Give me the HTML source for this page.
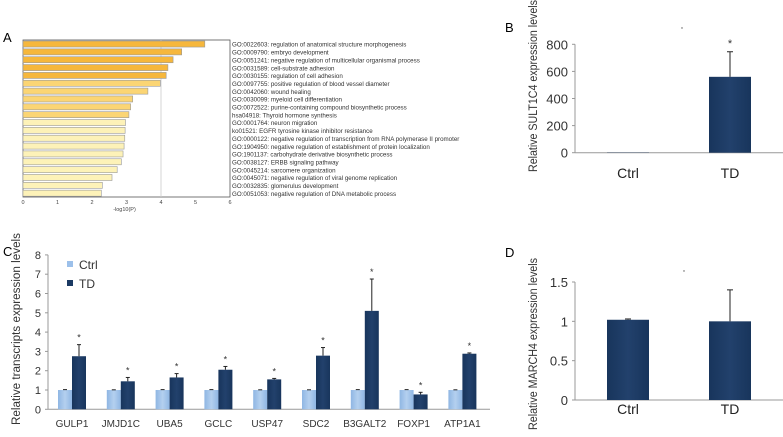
<!DOCTYPE html>
<html><head><meta charset="utf-8"><style>
body{margin:0;background:#fff;width:783px;height:432px;overflow:hidden;font-family:"Liberation Sans",sans-serif}
svg text{font-family:"Liberation Sans",sans-serif}
</style></head><body>
<svg id="s" width="783" height="432">
<defs>
<linearGradient id="gd" x1="0" x2="1"><stop offset="0" stop-color="#18355c"/><stop offset="0.5" stop-color="#22416c"/><stop offset="1" stop-color="#18355c"/></linearGradient>
<linearGradient id="gl" x1="0" x2="1"><stop offset="0" stop-color="#8fb6e3"/><stop offset="0.5" stop-color="#b4d0ef"/><stop offset="1" stop-color="#8fb6e3"/></linearGradient>
</defs>
<text x="3" y="42" font-size="13">A</text>
<text x="505" y="32" font-size="13">B</text>
<text x="3" y="256" font-size="13">C</text>
<text x="505" y="257" font-size="13">D</text>
<g id="ga"></g><g id="gb"></g><g id="gc"></g><g id="gdd"></g>
</svg>
<script>
const goTerms=["GO:0022603: regulation of anatomical structure morphogenesis","GO:0009790: embryo development","GO:0051241: negative regulation of multicellular organismal process","GO:0031589: cell-substrate adhesion","GO:0030155: regulation of cell adhesion","GO:0097755: positive regulation of blood vessel diameter","GO:0042060: wound healing","GO:0030099: myeloid cell differentiation","GO:0072522: purine-containing compound biosynthetic process","hsa04918: Thyroid hormone synthesis","GO:0001764: neuron migration","ko01521: EGFR tyrosine kinase inhibitor resistance","GO:0000122: negative regulation of transcription from RNA polymerase II promoter","GO:1904950: negative regulation of establishment of protein localization","GO:1901137: carbohydrate derivative biosynthetic process","GO:0038127: ERBB signaling pathway","GO:0045214: sarcomere organization","GO:0045071: negative regulation of viral genome replication","GO:0032835: glomerulus development","GO:0051053: negative regulation of DNA metabolic process"];
const goValues=[5.27,4.6,4.35,4.2,4.15,3.98,3.62,3.18,3.12,3.07,2.97,2.96,2.95,2.93,2.9,2.85,2.73,2.58,2.3,2.27];
const aTicks=[0,1,2,3,4,5,6];
const genes=["GULP1","JMJD1C","UBA5","GCLC","USP47","SDC2","B3GALT2","FOXP1","ATP1A1"];
const ctrlVals=[1,1,1,1,1,1,1,1,1];
const ctrlErr=[0.02,0.01,0.02,0.02,0.01,0.01,0.02,0.02,0.01];
const tdVals=[2.75,1.45,1.65,2.05,1.55,2.78,5.1,0.77,2.88];
const tdErr=[0.6,0.2,0.2,0.17,0.05,0.42,1.65,0.11,0.04];
const cTicks=[0,1,2,3,4,5,6,7,8];
const bGroups=["Ctrl","TD"];const bVals=[2,560];const bErr=[0,185];const bTicks=[0,200,400,600,800];
const dGroups=["Ctrl","TD"];const dVals=[1.02,1.0];const dErr=[0.01,0.4];const dTicks=[0,0.5,1,1.5];
const NS="http://www.w3.org/2000/svg";
function mk(p,t,a,txt){const e=document.createElementNS(NS,t);for(const k in a)e.setAttribute(k,a[k]);if(txt!==undefined)e.textContent=txt;p.appendChild(e);return e;}
// Panel A
(function(){const g=document.getElementById('ga');
const x=v=>23+v*34.5;const top=40,bot=197;const step=(bot-top)/goValues.length;
let fr=mk(g,'rect',{x:23,y:top,width:207,height:bot-top,fill:'none',stroke:'#555','stroke-width':0.8});

mk(g,'line',{x1:x(4),x2:x(4),y1:top,y2:bot,stroke:'#ccc','stroke-width':0.8});
goValues.forEach((v,i)=>{const c=i<5?'#f6b73c':i<10?'#fbd574':'#fdf2b8';
const y=top+i*step+1;
const r=mk(g,'rect',{x:23,y:y,width:x(v)-23,height:step-1.8,fill:c,stroke:'#999','stroke-width':0.6});

const t=mk(g,'text',{x:232,y:y+step/2+1.8,'font-size':6.2,fill:'#333'},goTerms[i]);
});
aTicks.forEach(v=>{const t=mk(g,'text',{x:x(v),y:bot+7,'font-size':5.5,'text-anchor':'middle',fill:'#444'},v);
});
const xt=mk(g,'text',{x:x(3)-2,y:bot+14,'font-size':5.5,'text-anchor':'middle',fill:'#444'},'-log10(P)');
})();
// Panel C
(function(){const g=document.getElementById('gc');
const y=v=>409.3-v*19.3;const x0=48,xe=490,step=48.8;
mk(g,'line',{x1:x0,x2:x0,y1:y(8),y2:y(0),stroke:'#999'});
mk(g,'line',{x1:x0,x2:xe,y1:y(0),y2:y(0),stroke:'#999'});
cTicks.forEach(v=>{mk(g,'line',{x1:x0-3,x2:x0,y1:y(v),y2:y(v),stroke:'#999'});
const t=mk(g,'text',{x:x0-7,y:y(v)+4,'font-size':11,'text-anchor':'end',fill:'#333'},v);
});
genes.forEach((gn,i)=>{const cx=72+i*step;
const r1=mk(g,'rect',{x:cx-14,y:y(ctrlVals[i]),width:14,height:y(0)-y(ctrlVals[i]),fill:'url(#gl)'});

mk(g,'line',{x1:cx-7,x2:cx-7,y1:y(ctrlVals[i]),y2:y(ctrlVals[i]+ctrlErr[i]),stroke:'#222'});
mk(g,'line',{x1:cx-9,x2:cx-5,y1:y(ctrlVals[i]+ctrlErr[i]),y2:y(ctrlVals[i]+ctrlErr[i]),stroke:'#222'});
const r2=mk(g,'rect',{x:cx,y:y(tdVals[i]),width:14,height:y(0)-y(tdVals[i]),fill:'url(#gd)'});

const et=y(tdVals[i]+tdErr[i]);
mk(g,'line',{x1:cx+7,x2:cx+7,y1:y(tdVals[i]),y2:et,stroke:'#222'});
mk(g,'line',{x1:cx+5,x2:cx+9,y1:et,y2:et,stroke:'#222'});
mk(g,'text',{x:cx+7,y:et-4,'font-size':9,'text-anchor':'middle',fill:'#333'},'*');
const t=mk(g,'text',{x:cx,y:427,'font-size':10,'text-anchor':'middle',fill:'#333'},gn);
});
const yl=mk(g,'text',{x:0,y:0,'font-size':11.5,'text-anchor':'middle',fill:'#333',textLength:192,lengthAdjust:'spacingAndGlyphs',transform:'translate(20,329) rotate(-90)'},'Relative transcripts expression levels');

const l1=mk(g,'rect',{x:67,y:261,width:6,height:6,fill:'#9cc0ea'});
mk(g,'text',{x:79,y:269,'font-size':12,fill:'#333'},'Ctrl');
const l2=mk(g,'rect',{x:67,y:280,width:6,height:6,fill:'#1b3a63'});
mk(g,'text',{x:79,y:288,'font-size':12,fill:'#333'},'TD');})();
// Two-bar panels
function two(gid,groups,vals,errs,ticks,y0,yTop,tmax,title,ty,tl,lblY,star,dot){const g=document.getElementById(gid);
const y=v=>y0-(v/tmax)*(y0-yTop);const x0=575,cx=[628,730];
mk(g,'line',{x1:x0,x2:x0,y1:yTop,y2:y0,stroke:'#999'});
mk(g,'line',{x1:x0,x2:783,y1:y0,y2:y0,stroke:'#999'});
ticks.forEach(v=>{mk(g,'line',{x1:x0-3,x2:x0,y1:y(v),y2:y(v),stroke:'#999'});
const t=mk(g,'text',{x:x0-7,y:y(v)+5,'font-size':13,'text-anchor':'end',fill:'#333'},v);
});
groups.forEach((gn,i)=>{const r=mk(g,'rect',{x:cx[i]-21,y:y(vals[i]),width:42,height:y0-y(vals[i]),fill:'url(#gd)'});

if(errs[i]>0){const et=y(vals[i]+errs[i]);mk(g,'line',{x1:cx[i],x2:cx[i],y1:y(vals[i]),y2:et,stroke:'#222'});
mk(g,'line',{x1:cx[i]-3,x2:cx[i]+3,y1:et,y2:et,stroke:'#222'});}
const t=mk(g,'text',{x:cx[i],y:lblY,'font-size':14,'text-anchor':'middle',fill:'#222'},gn);
});
if(star)mk(g,'text',{x:cx[1],y:y(vals[1]+errs[1])-5,'font-size':11,'text-anchor':'middle',fill:'#333'},'*');
mk(g,'circle',{cx:dot[0],cy:dot[1],r:0.7,fill:'#555'});
const yl=mk(g,'text',{x:0,y:0,'font-size':11.5,'text-anchor':'middle',fill:'#333',textLength:tl,lengthAdjust:'spacingAndGlyphs',transform:`translate(537,${ty}) rotate(-90)`},title);
}
two('gb',bGroups,bVals,bErr,bTicks,152.7,44.3,800,'Relative SULT1C4 expression levels',86,172,178,true,[682,28]);
two('gdd',dGroups,dVals,dErr,dTicks,400,282,1.5,'Relative  MARCH4 expression levels',344,172,414,false,[684,271]);
</script>
</body></html>
